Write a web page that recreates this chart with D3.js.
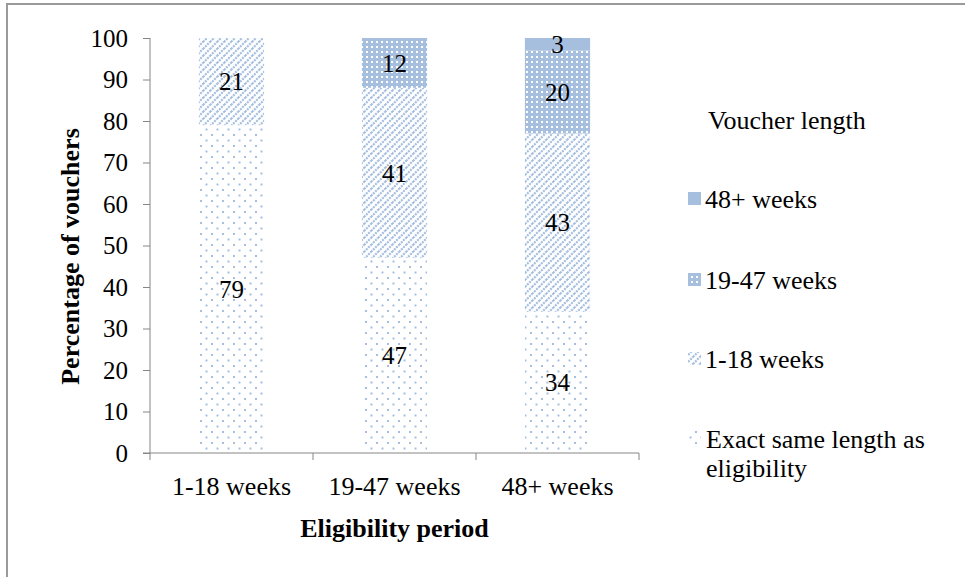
<!DOCTYPE html>
<html lang="en">
  <head>
    <meta charset="UTF-8" />
    <title>Voucher length by eligibility period</title>
    <script src="https://d3js.org/d3.v7.min.js"></script>
    <style>
      body { margin: 0; background: #fff; }
      svg text { font-family: "Liberation Serif", "Times New Roman", "DejaVu Serif", serif; fill: #000; }
      .tick text { font-size: 25px; }
      .axis-title { font-size: 26px; font-weight: bold; }
      .value { font-size: 25px; }
      .cat { font-size: 26px; }
      .legend text { font-size: 26px; }
    </style>
  </head>
  <body>
    <svg id="chart" width="965" height="577"></svg>
    <script>
      // chart data
      const periods = ["1-18 weeks", "19-47 weeks", "48+ weeks"];
      const seriesNames = ["Exact same length as eligibility", "1-18 weeks", "19-47 weeks", "48+ weeks"];
      const exactValues = [79, 47, 34];
      const short18Values = [21, 41, 43];
      const mid47Values = [0, 12, 20];
      const long48Values = [0, 0, 3];
      const yTicks = [0, 10, 20, 30, 40, 50, 60, 70, 80, 90, 100];

      const width = 965;
      const height = 577;
      const margin = { top: 38, right: 326, bottom: 124, left: 150 };
      const blue = "#a6bfdf";

      const svg = d3.select("#chart");

      // outer frame, cut off at right and bottom
      svg.append("rect")
        .attr("x", 7).attr("y", 4)
        .attr("width", width).attr("height", height)
        .attr("fill", "none").attr("stroke", "#9a9a9a").attr("stroke-width", 2);

      // patterns
      const defs = svg.append("defs");

      const pDots = defs.append("pattern").attr("id", "p-exact")
        .attr("patternUnits", "userSpaceOnUse").attr("width", 11).attr("height", 11);
      pDots.append("rect").attr("width", 11).attr("height", 11).attr("fill", "#fff");
      pDots.append("rect").attr("x", 2).attr("y", 2).attr("width", 2).attr("height", 2).attr("fill", blue);
      pDots.append("rect").attr("x", 7.5).attr("y", 7.5).attr("width", 2).attr("height", 2).attr("fill", blue);

      const pDiag = defs.append("pattern").attr("id", "p-short")
        .attr("patternUnits", "userSpaceOnUse").attr("width", 7).attr("height", 7);
      pDiag.append("rect").attr("width", 7).attr("height", 7).attr("fill", "#fff");
      pDiag.append("path").attr("d", "M-1,1 l2,-2 M0,7 l7,-7 M6,8 l2,-2")
        .attr("stroke", blue).attr("stroke-width", 2.2).attr("stroke-dasharray", "2,1");

      const pGrid = defs.append("pattern").attr("id", "p-mid")
        .attr("patternUnits", "userSpaceOnUse").attr("width", 5).attr("height", 5);
      pGrid.append("rect").attr("width", 5).attr("height", 5).attr("fill", blue);
      pGrid.append("rect").attr("x", 1).attr("y", 1).attr("width", 2).attr("height", 2).attr("fill", "#fff");

      const fills = ["url(#p-exact)", "url(#p-short)", "url(#p-mid)", blue];

      const rows = periods.map((p, i) => ({
        period: p,
        s0: exactValues[i], s1: short18Values[i], s2: mid47Values[i], s3: long48Values[i]
      }));
      const keys = ["s0", "s1", "s2", "s3"];
      const stacked = d3.stack().keys(keys)(rows);

      const x = d3.scaleBand().domain(periods)
        .range([margin.left, width - margin.right]).paddingInner(0.6).paddingOuter(0.3);
      const y = d3.scaleLinear().domain([0, 100]).range([height - margin.bottom, margin.top]);

      // bars
      stacked.forEach((layer, k) => {
        svg.append("g").selectAll("rect").data(layer).join("rect")
          .attr("x", d => x(d.data.period))
          .attr("y", d => y(d[1]))
          .attr("width", x.bandwidth())
          .attr("height", d => y(d[0]) - y(d[1]))
          .attr("fill", fills[k]);
      });

      // value labels
      stacked.forEach(layer => {
        svg.append("g").selectAll("text").data(layer.filter(d => d[1] - d[0] > 0)).join("text")
          .attr("class", "value")
          .attr("x", d => x(d.data.period) + x.bandwidth() / 2)
          .attr("y", d => y((d[0] + d[1]) / 2))
          .attr("dy", "0.35em")
          .attr("text-anchor", "middle")
          .text(d => d[1] - d[0]);
      });

      // axes
      const yAxis = svg.append("g")
        .attr("transform", `translate(${margin.left},0)`)
        .call(d3.axisLeft(y).tickValues(yTicks).tickSize(7).tickPadding(15));
      yAxis.selectAll("line, path").attr("stroke", "#868686");
      yAxis.select(".domain").attr("d", `M0,${y(100)}V${y(0)}`);

      const step = x.step();
      const x0 = margin.left;
      const x1 = margin.left + step * periods.length;
      const xAxis = svg.append("g").attr("transform", `translate(0,${y(0)})`);
      xAxis.append("line").attr("x1", x0 - 7).attr("x2", x1).attr("stroke", "#868686");
      xAxis.selectAll(".xt").data(d3.range(periods.length + 1)).join("line")
        .attr("x1", i => x0 + i * step).attr("x2", i => x0 + i * step)
        .attr("y1", 0).attr("y2", 7).attr("stroke", "#868686");
      xAxis.selectAll(".xl").data(periods).join("text")
        .attr("class", "cat")
        .attr("x", d => x(d) + x.bandwidth() / 2)
        .attr("y", 42)
        .attr("text-anchor", "middle")
        .text(d => d);

      svg.append("text").attr("class", "axis-title")
        .attr("x", (x0 + x1) / 2).attr("y", 537).attr("text-anchor", "middle")
        .text("Eligibility period");
      svg.append("text").attr("class", "axis-title")
        .attr("transform", `translate(70,${(y(0) + y(100)) / 2 + 11}) rotate(-90)`)
        .attr("text-anchor", "middle").attr("dy", "0.35em")
        .text("Percentage of vouchers");

      // legend
      const legend = svg.append("g").attr("class", "legend");
      legend.append("text").attr("x", 708).attr("y", 129).text("Voucher length");
      const legendRows = [
        { name: seriesNames[3], fill: fills[3], y: 208 },
        { name: seriesNames[2], fill: fills[2], y: 289 },
        { name: seriesNames[1], fill: fills[1], y: 368 }
      ];
      legendRows.forEach(r => {
        legend.append("rect").attr("x", 688).attr("y", r.y - 16).attr("width", 13).attr("height", 13).attr("fill", r.fill);
        legend.append("text").attr("x", 705).attr("y", r.y).text(r.name);
      });
      legend.append("rect").attr("x", 688).attr("y", 431).attr("width", 13).attr("height", 13).attr("fill", fills[0]);
      legend.append("text").attr("x", 706).attr("y", 448).text("Exact same length as");
      legend.append("text").attr("x", 706).attr("y", 477).text("eligibility");
    </script>
  </body>
</html>
